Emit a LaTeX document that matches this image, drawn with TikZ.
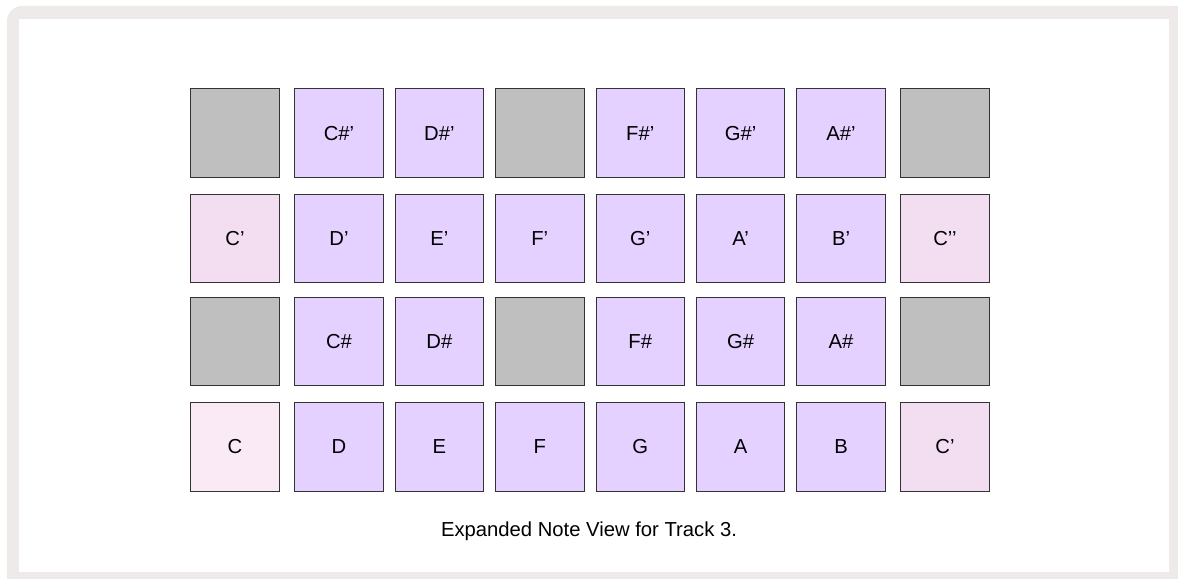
\documentclass[tikz,border=0pt]{standalone}
\usepackage{fontspec}
\setmainfont{Liberation Sans}
\usetikzlibrary{positioning}
\definecolor{framegray}{RGB}{238,234,233}
\definecolor{padgray}{RGB}{191,191,191}
\definecolor{padpurple}{RGB}{229,209,255}
\definecolor{padpink}{RGB}{243,221,240}
\definecolor{padlight}{RGB}{250,234,246}
\definecolor{padline}{RGB}{51,51,51}

\begin{document}
\begin{tikzpicture}[
    pad/.style={rectangle, draw=padline, line width=0.7pt, minimum width=2.21cm, minimum height=2.21cm, inner sep=0pt, font=\fontsize{14.4}{17}\selectfont, fill=padpurple},
    blank/.style={pad, fill=padgray},
    octave/.style={pad, fill=padpink},
    root/.style={pad, fill=padlight},
    caption/.style={font=\fontsize{14.4}{17}\selectfont}
]

% Frame
\useasboundingbox (-14.75,-7.225) rectangle (14.70,7.25);
\clip (-14.75,-7.225) rectangle (14.70,7.25);
\fill[framegray, rounded corners=0.375cm] (-14.575,-7.6) rectangle (15.0,7.1);
\fill[white] (-14.275,-7.05) rectangle (14.475,6.775);

% ------------------ Row 1 ------------------
\node[blank] (gap1) at (-8.875,3.92) {};
\node[pad] (nCs2) at (-6.275,3.92) {C\#’};
\node[pad] (nDs2) at (-3.765,3.92) {D\#’};
\node[blank] (gap2) at (-1.255,3.92) {};
\node[pad] (nFs2) at (1.255,3.92) {F\#’};
\node[pad] (nGs2) at (3.765,3.92) {G\#’};
\node[pad] (nAs2) at (6.275,3.92) {A\#’};
\node[blank] (gap3) at (8.875,3.92) {};

% ------------------ Row 2 ------------------
\node[octave] (nC2) at (-8.875,1.29) {C’};
\node[pad] (nD2) at (-6.275,1.29) {D’};
\node[pad] (nE2) at (-3.765,1.29) {E’};
\node[pad] (nF2) at (-1.255,1.29) {F’};
\node[pad] (nG2) at (1.255,1.29) {G’};
\node[pad] (nA2) at (3.765,1.29) {A’};
\node[pad] (nB2) at (6.275,1.29) {B’};
\node[octave] (nC3) at (8.875,1.29) {C’’};

% ------------------ Row 3 ------------------
\node[blank] (gap4) at (-8.875,-1.29) {};
\node[pad] (nCs1) at (-6.275,-1.29) {C\#};
\node[pad] (nDs1) at (-3.765,-1.29) {D\#};
\node[blank] (gap5) at (-1.255,-1.29) {};
\node[pad] (nFs1) at (1.255,-1.29) {F\#};
\node[pad] (nGs1) at (3.765,-1.29) {G\#};
\node[pad] (nAs1) at (6.275,-1.29) {A\#};
\node[blank] (gap6) at (8.875,-1.29) {};

% ------------------ Row 4 ------------------
\node[root] (nC1) at (-8.875,-3.92) {C};
\node[pad] (nD1) at (-6.275,-3.92) {D};
\node[pad] (nE1) at (-3.765,-3.92) {E};
\node[pad] (nF1) at (-1.255,-3.92) {F};
\node[pad] (nG1) at (1.255,-3.92) {G};
\node[pad] (nA1) at (3.765,-3.92) {A};
\node[pad] (nB1) at (6.275,-3.92) {B};
\node[octave] (nCtop) at (8.875,-3.92) {C’};

% Caption
\node[caption] (title) at (-0.025,-6.02) {Expanded Note View for Track 3.};

\end{tikzpicture}
\end{document}
